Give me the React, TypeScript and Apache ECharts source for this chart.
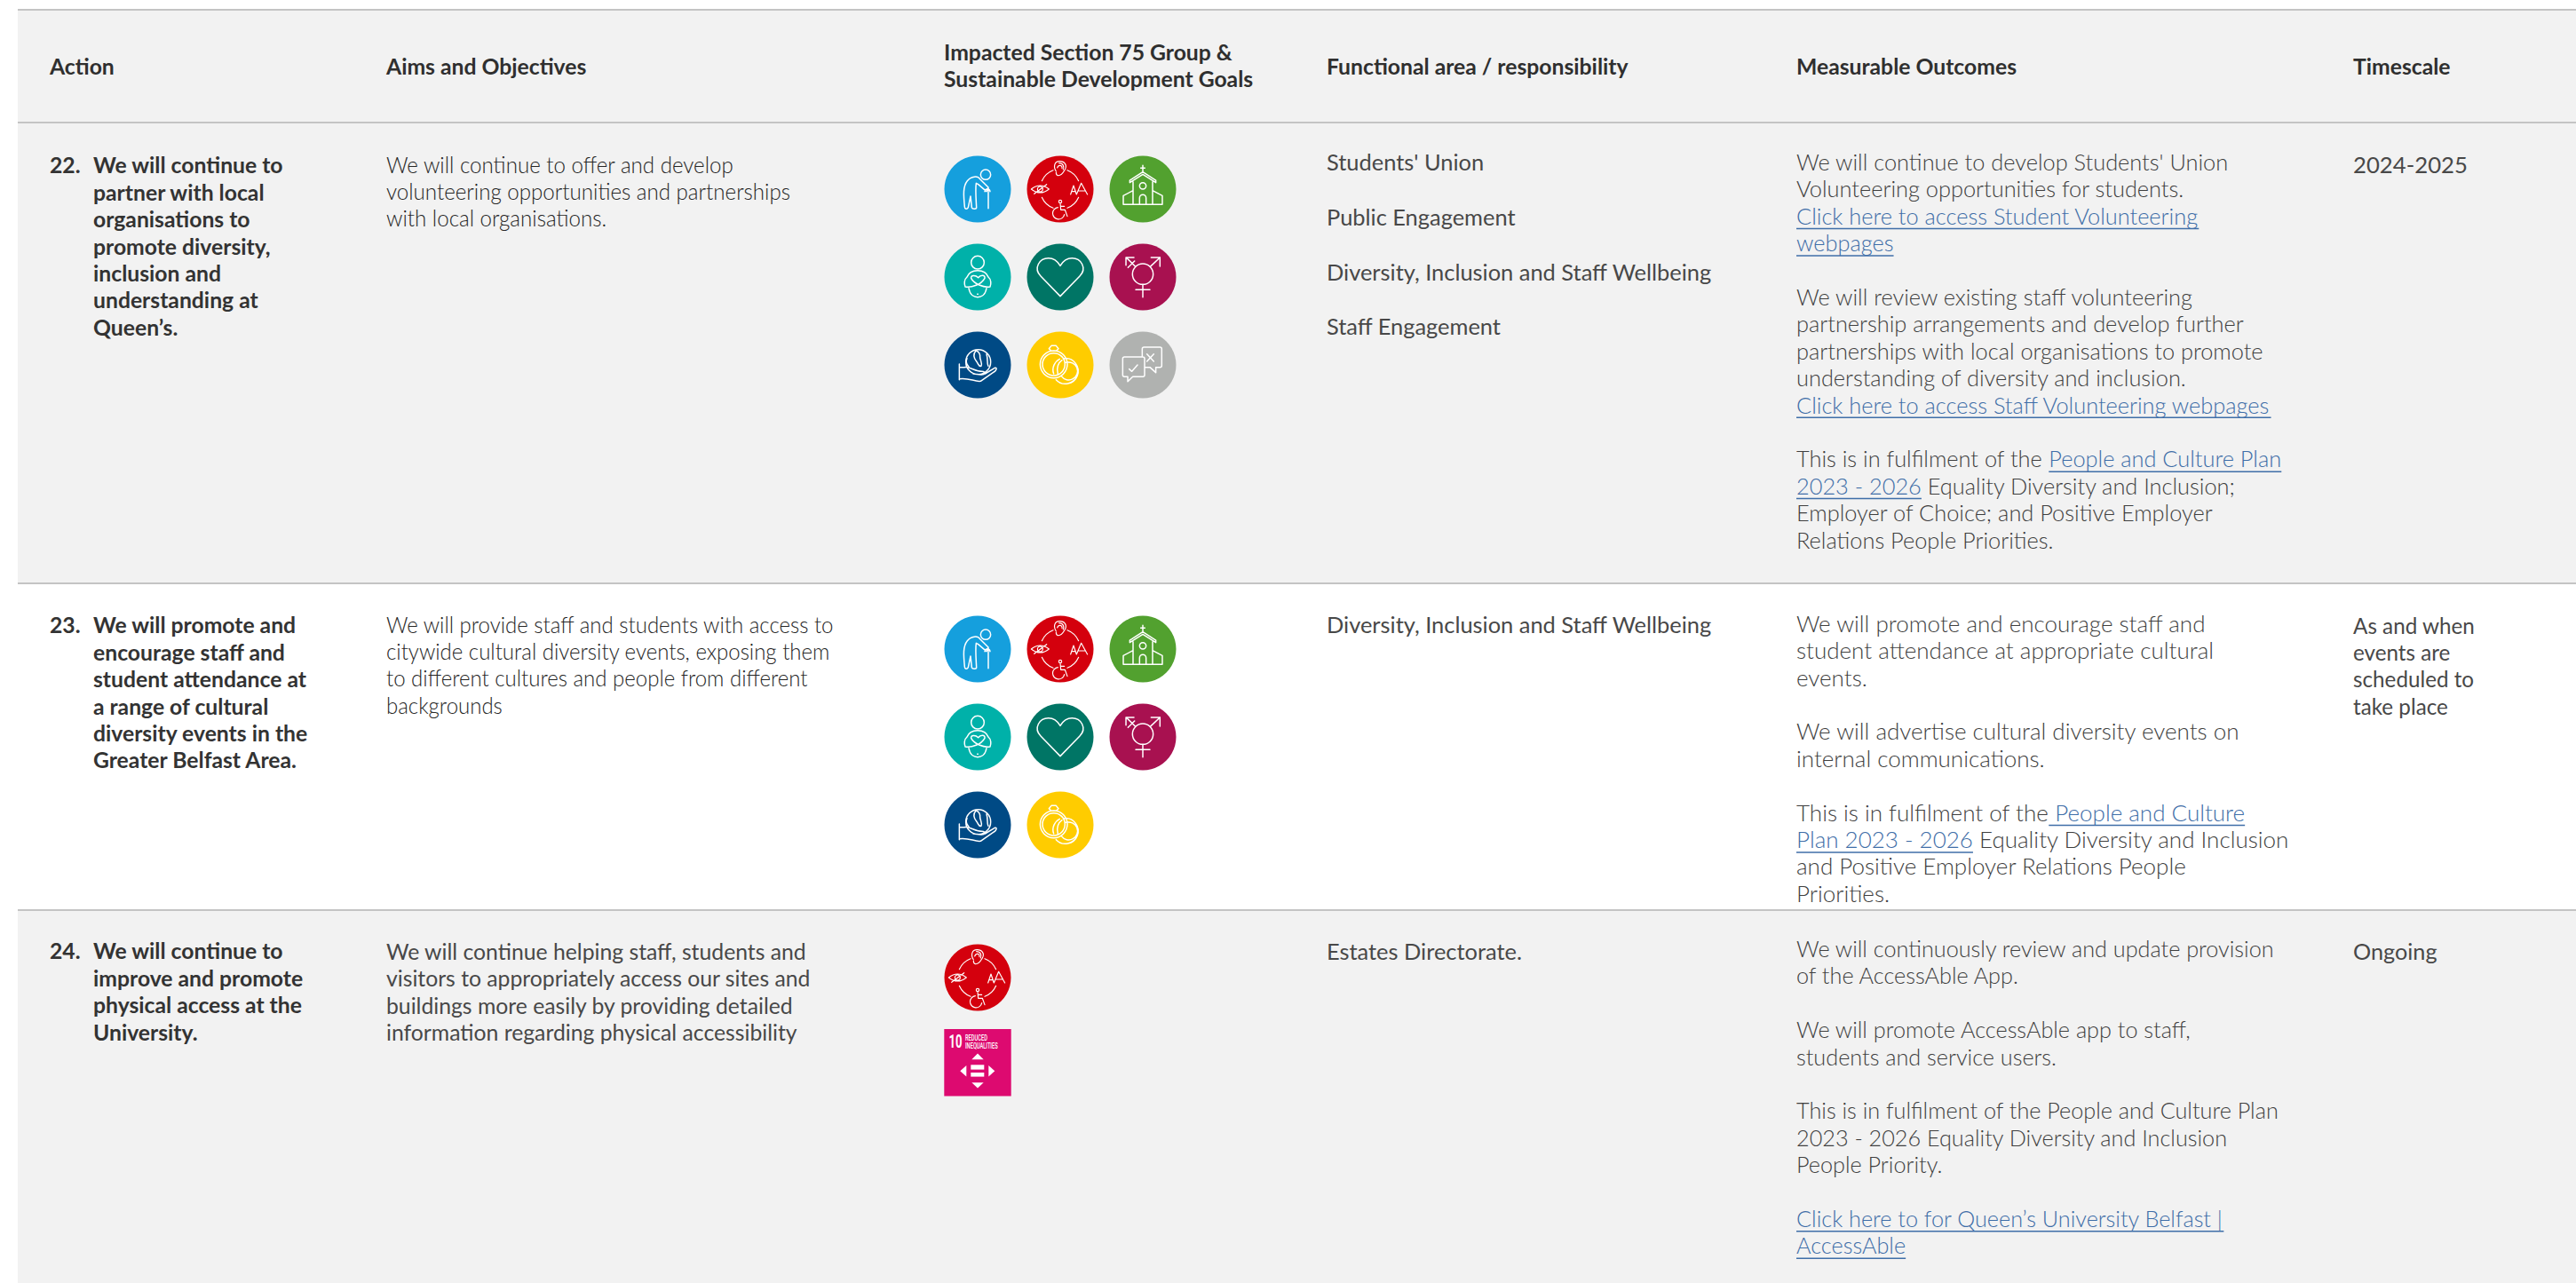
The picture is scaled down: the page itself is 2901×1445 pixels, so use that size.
import React, { useEffect, useRef } from "react";
import * as echarts from "echarts";

const W = 2901;
const H = 1445;

// ---------- table content ----------
const headers = [
  ["Action"],
  ["Aims and Objectives"],
  ["Impacted Section 75 Group &", "Sustainable Development Goals"],
  ["Functional area / responsibility"],
  ["Measurable Outcomes"],
  ["Timescale"],
];
const actionNumbers = ["22.", "23.", "24."];
const actions = [
  ["We will continue to", "partner with local", "organisations to", "promote diversity,", "inclusion and", "understanding at", "Queen\u2019s."],
  ["We will promote and", "encourage staff and", "student attendance at", "a range of cultural", "diversity events in the", "Greater Belfast Area."],
  ["We will continue to", "improve and promote", "physical access at the", "University."],
];
const aims = [
  ["We will continue to offer and develop", "volunteering opportunities and partnerships", "with local organisations."],
  ["We will provide staff and students with access to", "citywide cultural diversity events, exposing them", "to different cultures and people from different", "backgrounds"],
  ["We will continue helping staff, students and", "visitors to appropriately access our sites and", "buildings more easily by providing detailed", "information regarding physical accessibility"],
];
const areas = [
  ["Students' Union", "", "Public Engagement", "", "Diversity, Inclusion and Staff Wellbeing", "", "Staff Engagement"],
  ["Diversity, Inclusion and Staff Wellbeing"],
  ["Estates Directorate."],
];
const outcomes = [
  [
    "We will continue to develop Students' Union", "Volunteering opportunities for students.", "[Click here to access Student Volunteering]", "[webpages]", "",
    "We will review existing staff volunteering", "partnership arrangements and develop further", "partnerships with local organisations to promote", "understanding of diversity and inclusion.", "[Click here to access Staff Volunteering webpages]", "",
    "This is in fulfilment of the [People and Culture Plan]", "[2023 - 2026] Equality Diversity and Inclusion;", "Employer of Choice; and Positive Employer", "Relations People Priorities.",
  ],
  [
    "We will promote and encourage staff and", "student attendance at appropriate cultural", "events.", "",
    "We will advertise cultural diversity events on", "internal communications.", "",
    "This is in fulfilment of the[ People and Culture]", "[Plan 2023 - 2026] Equality Diversity and Inclusion", "and Positive Employer Relations People", "Priorities.",
  ],
  [
    "We will continuously review and update provision", "of the AccessAble App.", "",
    "We will promote AccessAble app to staff,", "students and service users.", "",
    "This is in fulfilment of the People and Culture Plan", "2023 - 2026 Equality Diversity and Inclusion", "People Priority.", "",
    "[Click here to for Queen\u2019s University Belfast |]", "[AccessAble]",
  ],
];
const timescales = [["2024-2025"], ["As and when", "events are", "scheduled to", "take place"], ["Ongoing"]];
const rowIcons = [
  ["elder", "access", "church", "pregnant", "heart", "gender", "globe", "rings", "speech"],
  ["elder", "access", "church", "pregnant", "heart", "gender", "globe", "rings"],
  ["access"],
];

// ---------- layout ----------
const colX = [56, 435, 1063, 1494, 2023, 2650];
const actionTextX = 105;
const LH = 30.4;
const rowTop = [137, 656, 1024];
const rowFill = ["#f2f2f2", "#ffffff", "#f2f2f2"];
const rowBottom = [656, 1024, 1445];
const firstY = {
  action: [186, 704, 1071],
  aims: [185, 703, 1071],
  area: [182, 703.5, 1071],
  outcome: [182, 702, 1068],
  time: [185, 704, 1071],
};
const iconTopY = [213, 731, 1101];
const iconCols = [1101, 1194, 1287];
const iconStep = 99;
const ICON_R = 37.5;

const FONT = "Lato";
const ST_HEAD = { weight: 700, size: 24, color: "#2f2f2f", scale: 1.03 };
const ST_ACT = { weight: 700, size: 24, color: "#333333", scale: 1.03 };
const ST_AIM = [
  { weight: 300, size: 25, color: "#262626", scale: 0.965 },
  { weight: 300, size: 25, color: "#262626", scale: 0.96 },
  { weight: 400, size: 25, color: "#484848", scale: 0.99 },
];
const ST_AREA = { weight: 400, size: 25, color: "#484848", scale: 1.017 };
const ST_TIME = [
  { weight: 400, size: 25, color: "#484848", scale: 1.03 },
  { weight: 400, size: 25, color: "#484848", scale: 0.97 },
  { weight: 400, size: 25, color: "#484848", scale: 1.01 },
];
const ST_OUT = [
  { weight: 300, size: 25, color: "#3f3f3f", scale: 1.015 },
  { weight: 300, size: 25, color: "#3f3f3f", scale: 1.04 },
  { weight: 300, size: 25, color: "#3f3f3f", scale: 1.01 },
];
const LINK = "#3f6ea8";

// ---------- icon outlines, units are 1/3 px about the icon centre ----------
const circ = (cx: number, cy: number, r: number) =>
  `M${cx + r},${cy}A${r},${r} 0 1 1 ${cx - r},${cy}A${r},${r} 0 1 1 ${cx + r},${cy}Z`;

const iconPaths: Record<string, { color: string; d: string; w?: number }> = {
  elder: {
    color: "#159fdd",
    d:
      circ(27, -49, 17) +
      "M-44,60C-48,20 -50,-10 -35,-28C-22,-44 0,-46 8,-34L36,-6L30,8L2,-16L-5,-20C-8,0 -6,24 -4,62C-4,68 -18,68 -20,62L-24,24L-32,62C-36,70 -44,68 -44,60Z" +
      "M36,-4L36,65M24,8C27,-4 40,-4 42,8",
  },
  access: {
    color: "#d4000d",
    d:
      "M24,-64A68,68 0 0 1 62,-28M62,28A68,68 0 0 1 24,64M-24,64A68,68 0 0 1 -62,28M-62,-28A68,68 0 0 1 -24,-64" +
      "M-14,-60C-24,-76 -20,-94 -2,-94C16,-94 24,-80 16,-66C10,-56 4,-44 -8,-46C-14,-47 -14,-52 -14,-56M-10,-72C-6,-84 8,-82 6,-70M-4,-88C10,-88 14,-76 10,-66" +
      "M-98,0Q-68,-24 -38,0Q-68,24 -98,0Z" + circ(-68, 0, 9) + "M-88,16L-46,-16" +
      "M35,18L45,-12L55,18M39,8L51,8M55,18L71,-20L92,18M61,6L85,6" +
      circ(0, 42, 5) + "M0,48L2,70L16,70L24,92M2,58L14,58M-8,62A20,20 0 1 0 14,86",
    w: 3.5,
  },
  church: {
    color: "#52a12f",
    d:
      "M0,-80L0,-58M-7,-71L7,-71M-44,-30L0,-58L44,-30L44,-22L0,-50L-44,-22Z" +
      "M-33,-25L-33,52M33,-25L33,52M-33,5L-66,22L-66,52L66,52L66,22L33,5" +
      "M-11,52L-11,30A11,11 0 0 1 11,30L11,52" +
      circ(0, -11, 11),
  },
  pregnant: {
    color: "#00b1a9",
    d:
      circ(0, -49, 22) +
      "M-36,0C-46,8 -46,24 -42,33M36,0C46,8 46,24 42,33M-36,0C-30,-16 -16,-22 0,-22C16,-22 30,-16 36,0" +
      "M-42,33C-20,36 12,26 24,4C26,-8 10,-8 2,2C-8,-8 -24,-6 -22,4C-12,24 20,36 42,33" +
      "M-30,38C-26,62 -10,68 0,68C10,68 26,62 30,38M-1,58L1,58",
  },
  heart: {
    color: "#007565",
    d: "M0,65L-66,-3C-92,-30 -70,-64 -40,-64C-20,-64 -8,-52 0,-38C8,-52 20,-64 40,-64C70,-64 92,-30 66,-3Z",
  },
  gender: {
    color: "#a81150",
    d:
      circ(0, -10, 35) +
      "M0,25L0,68M-24,43L24,43M25,-35L58,-66M28,-66L58,-66L58,-36" +
      "M-25,-35L-54,-64M-57,-40L-57,-66L-30,-66M-50,-32L-28,-54",
  },
  globe: {
    color: "#004a85",
    d:
      circ(2, -10, 42) +
      "M-6,-48C-16,-36 -12,-22 -4,-12C4,-2 2,6 12,4C16,-6 10,-14 8,-24C10,-36 4,-46 -6,-48Z" +
      "M-36,-22C-42,-10 -36,0 -30,6M30,-36C36,-20 30,-6 36,4" +
      "M-62,-3L-62,50M-62,8L-45,8C-25,5 -10,22 15,22C30,22 25,35 10,33L-15,30" +
      "M25,30L58,10C68,8 62,20 55,24L10,55C-10,58 -30,42 -62,47",
  },
  rings: {
    color: "#ffcc00",
    d:
      circ(-22, -2, 46) + circ(-22, -2, 38) +
      "M-38,-55L-30,-65L-14,-65L-6,-55L-14,-47L-30,-47Z" +
      "M14,-22A43,43 0 1 1 -14,50M20,-8A30,30 0 1 1 4,38M-22,30C-30,10 -18,-12 -2,-20M-8,30C-14,10 -6,-8 6,-16",
  },
  speech: {
    color: "#b0b2b0",
    d:
      "M-2,-27L-2,-54C-2,-58 0,-60 4,-60L58,-60C62,-60 64,-58 64,-54L64,2C64,6 62,8 58,8L44,8L44,26L24,8L6,8" +
      "M-62,-27L0,-27C4,-27 6,-25 6,-21L6,34C6,38 4,40 0,40L-34,40L-51,56L-51,40L-62,40C-66,40 -68,38 -68,34L-68,-21C-68,-25 -66,-27 -62,-27Z" +
      "M-46,14L-37,22L-18,0M14,-37L37,-12M37,-37L14,-12",
  },
};
Object.keys(iconPaths).forEach((k) => {
  echarts.graphic.registerShape("icon-" + k, echarts.graphic.extendPath(iconPaths[k].d, {}));
});

// ---------- helpers ----------
const measureCtx = document.createElement("canvas").getContext("2d") as CanvasRenderingContext2D;
const textWidth = (s: string, st: any) => {
  measureCtx.font = `${st.weight} ${st.size}px ${FONT}`;
  return measureCtx.measureText(s).width * st.scale;
};
const txt = (x: number, y: number, text: string, st: any, fill?: string): any => ({
  type: "text",
  x,
  y,
  scaleX: st.scale,
  silent: true,
  style: {
    text,
    fill: fill || st.color,
    fontFamily: FONT,
    fontWeight: st.weight,
    fontSize: st.size,
    align: "left",
    verticalAlign: "middle",
  },
});

function buildGraphics() {
  const els: any[] = [];
  const rect = (x: number, y: number, width: number, height: number, fill: string) =>
    els.push({ type: "rect", shape: { x, y, width, height }, silent: true, style: { fill } });
  const hline = (y: number, color = "#c4c4c4") => rect(20, y, W - 20, 2, color);

  rect(20, 10, W - 20, 128, "#f2f2f2");
  rowTop.forEach((t, i) => rect(20, t, W - 20, rowBottom[i] - t, rowFill[i]));
  hline(10);
  hline(137);
  hline(656);
  hline(1024);

  headers.forEach((lines, c) => {
    const y0 = lines.length > 1 ? 59 : 74.5;
    lines.forEach((s, i) => els.push(txt(colX[c], y0 + i * 30, s, ST_HEAD)));
  });

  const block = (x: number, y0: number, lines: string[], st: any) =>
    lines.forEach((s, i) => {
      if (s) els.push(txt(x, y0 + i * LH, s, st));
    });

  rowTop.forEach((_, r) => {
    els.push(txt(colX[0], firstY.action[r], actionNumbers[r], ST_ACT));
    block(actionTextX, firstY.action[r], actions[r], ST_ACT);
    block(colX[1], firstY.aims[r], aims[r], ST_AIM[r]);
    areas[r].forEach((s, i) => {
      if (s) els.push(txt(colX[3], firstY.area[r] + (i / 2) * 61.8, s, ST_AREA));
    });
    block(colX[5], firstY.time[r], timescales[r], ST_TIME[r]);

    outcomes[r].forEach((line, i) => {
      if (!line) return;
      const y = firstY.outcome[r] + i * LH;
      let x = colX[4];
      line.split(/(\[[^\]]*\])/).forEach((seg) => {
        if (!seg) return;
        const isLink = seg[0] === "[";
        const s = isLink ? seg.slice(1, -1) : seg;
        const w = textWidth(s, ST_OUT[r]);
        els.push(txt(x, y, s, ST_OUT[r], isLink ? LINK : undefined));
        if (isLink) rect(x, y + 14, w, 1.5, LINK);
        x += w;
      });
    });

    rowIcons[r].forEach((name, i) => {
      drawIcon(els, name, iconCols[i % 3], iconTopY[r] + Math.floor(i / 3) * iconStep);
    });
  });

  drawSdg(els, 1063.3, 1159);
  return els;
}

function drawIcon(els: any[], name: string, cx: number, cy: number) {
  const ic = iconPaths[name];
  els.push({ type: "circle", shape: { cx, cy, r: ICON_R }, silent: true, style: { fill: ic.color } });
  els.push({
    type: "icon-" + name,
    x: cx,
    y: cy,
    scaleX: 1 / 3,
    scaleY: 1 / 3,
    silent: true,
    style: { fill: "none", stroke: "#ffffff", lineWidth: ic.w || 4.5, lineJoin: "round", lineCap: "round" },
  });
}

function drawSdg(els: any[], x0: number, y0: number) {
  const S = 75.4;
  const cx = x0 + S / 2;
  const cy = y0 + 47.3;
  els.push({ type: "rect", shape: { x: x0, y: y0, width: S, height: S }, silent: true, style: { fill: "#dd0a70" } });
  const poly = (pts: number[][]) =>
    els.push({
      type: "polygon",
      shape: { points: pts.map((p) => [cx + p[0], cy + p[1]]) },
      silent: true,
      style: { fill: "#ffffff" },
    });
  poly([[-6.7, -13], [6.7, -13], [0, -19.7]]);
  poly([[-6.7, 13], [6.7, 13], [0, 19.3]]);
  poly([[-12.7, -6.3], [-12.7, 6.3], [-19.7, 0]]);
  poly([[12.3, -6.3], [12.3, 6.3], [19.3, 0]]);
  els.push({ type: "rect", shape: { x: cx - 7.7, y: cy - 7, width: 15, height: 5.3 }, silent: true, style: { fill: "#fff" } });
  els.push({ type: "rect", shape: { x: cx - 7.7, y: cy + 1.7, width: 15, height: 4.6 }, silent: true, style: { fill: "#fff" } });
  const t = (x: number, y: number, text: string, size: number, weight: number, sx: number) =>
    els.push({
      type: "text",
      x,
      y,
      scaleX: sx,
      silent: true,
      style: { text, fill: "#fff", fontFamily: "Roboto", fontWeight: weight, fontSize: size, align: "left", verticalAlign: "middle" },
    });
  t(x0 + 5.3, y0 + 13.7, "10", 20.5, 700, 0.64);
  t(x0 + 23.7, y0 + 9.7, "REDUCED", 8.4, 500, 0.68);
  t(x0 + 23.7, y0 + 18.7, "INEQUALITIES", 8.4, 500, 0.68);
}

export default function App() {
  const ref = useRef<HTMLDivElement>(null);
  useEffect(() => {
    document.body.style.margin = "0";
    const chart = echarts.init(ref.current as HTMLDivElement, undefined, { renderer: "svg" });
    chart.setOption({
      animation: false,
      backgroundColor: "#ffffff",
      graphic: { elements: buildGraphics() },
    });
    return () => chart.dispose();
  }, []);
  return <div ref={ref} style={{ width: W, height: H }} />;
}
